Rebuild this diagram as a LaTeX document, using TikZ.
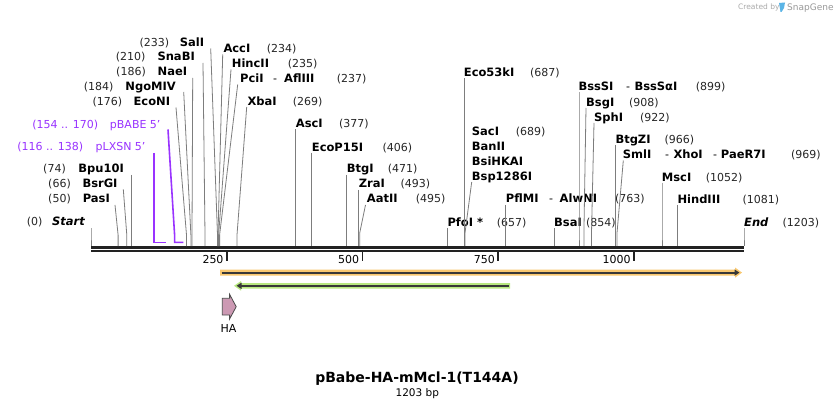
\documentclass[tikz,border=0pt]{standalone}
\usepackage{fontspec}
\setmainfont{DejaVu Sans}
\usetikzlibrary{arrows.meta}
\definecolor{lgray}{RGB}{125,125,125}
\definecolor{purp}{RGB}{153,51,255}
\definecolor{bbone}{RGB}{34,34,34}
\definecolor{orpale}{RGB}{249,200,112}
\definecolor{grpale}{RGB}{184,232,128}
\definecolor{hapink}{RGB}{204,153,179}
\definecolor{wmgray}{RGB}{170,170,170}
\definecolor{wmblue}{RGB}{90,180,230}
\newcommand\labL[6]{%
  \node[nr,anchor=base east] (#1n) at (#2,#6+4) {#3};
  \node[nm,anchor=base east] (#1) at (#4,#6+4) {#5};}
\newcommand\labR[6]{%
  \node[nm,anchor=base west] (#1) at (#2,#6+4) {#3};
  \node[nr,anchor=base west] (#1n) at (#4,#6+4) {#5};}
\begin{document}
\begin{tikzpicture}[x=1pt,y=-1pt,
  nm/.style={font=\fontsize{11.5}{12}\selectfont\bfseries, inner sep=0pt, text=black},
  nr/.style={font=\fontsize{11}{12}\selectfont, inner sep=0pt, text=black!85},
  hy/.style={font=\fontsize{11}{12}\selectfont, inner sep=0pt, text=black},
  pu/.style={font=\fontsize{11}{12}\selectfont, inner sep=0pt, text=purp},
  cl/.style={draw=lgray, line width=0.8pt},
  pl/.style={draw=purp, line width=1.6pt},
  bb/.style={draw=bbone, line width=2.6pt},
  tk/.style={draw=bbone, line width=1.8pt},
  tl/.style={font=\fontsize{11}{12}\selectfont, inner sep=0pt, anchor=base east}]
\useasboundingbox (0,0) rectangle (836,409);
\fill[white] (0,0) rectangle (836,409);

% ---------- watermark
\node[font=\fontsize{7.5}{8}\selectfont, text=wmgray, inner sep=0pt, anchor=base west] (wm1) at (738,10) {Created by};
\fill[wmblue] (779,3) -- (785,2.5) -- (784,8) -- (781.5,12) -- (780.5,12) -- cycle;
\node[font=\fontsize{9}{9}\selectfont, text=wmgray!90!black, inner sep=0pt, anchor=base west] (wm2) at (787,11) {SnapGene};

% ---------- backbone
\coordinate (b0) at (91,247.3); \coordinate (b1) at (744,247.3);
\coordinate (c0) at (91,251); \coordinate (c1) at (744,251);
\draw[bb] (b0) -- (b1);
\draw[bb] (c0) -- (c1);

% ticks
\foreach \x/\t/\nm in {226.7/250/ta,362.4/500/tb,498.1/750/tc,633.8/1000/td}{
  \coordinate (\nm s) at (\x,252); \coordinate (\nm e) at (\x,261);
  \draw[tk] (\nm s) -- (\nm e);
  \node[tl] (\nm l) at (\x-3,263.5) {\t};
}

% ---------- left labels
\labL{SalI}{169.3}{(233)}{204.3}{SalI}{42.3}
\labL{SnaBI}{145.7}{(210)}{195}{SnaBI}{56.7}
\labL{NaeI}{146}{(186)}{187.3}{NaeI}{71.7}
\labL{NgoMIV}{113.7}{(184)}{176}{NgoMIV}{87}
\labL{EcoNI}{122.3}{(176)}{170.3}{EcoNI}{102}
\labL{BpuI}{66}{(74)}{124}{Bpu10I}{169}
\labL{BsrGI}{71}{(66)}{117.7}{BsrGI}{183.3}
\labL{PasI}{71}{(50)}{110}{PasI}{199}
\node[nr,anchor=base east] (Startn) at (42.7,225.7) {(0)};
\node[nm,anchor=base east] (Start) at (85,225.7) {\itshape Start};

\node[pu,anchor=base east] (pBABEn) at (98.3,128.3) {(154 .. 170)};
\node[pu,anchor=base east] (pBABE) at (160.7,128.3) {pBABE 5'};
\node[pu,anchor=base east] (pLXSNn) at (83.3,150.7) {(116 .. 138)};
\node[pu,anchor=base east] (pLXSN) at (145.7,150.7) {pLXSN 5'};

% ---------- right labels
\labR{AccI}{223.3}{AccI}{266.7}{(234)}{49}
\labR{HincII}{231.7}{HincII}{287.7}{(235)}{63.7}
\node[nm,anchor=base west] (PciI) at (240,82.7) {PciI};
\node[hy,anchor=base west] (PciIh) at (273,82.7) {-};
\node[nm,anchor=base west] (AflIII) at (284,82.7) {AflIII};
\node[nr,anchor=base west] (AflIIIn) at (336.7,82.7) {(237)};
\labR{XbaI}{247.3}{XbaI}{292.7}{(269)}{101.7}
\labR{AscI}{295.7}{AscI}{339}{(377)}{123.3}
\labR{EcoP}{311.7}{EcoP15I}{382.3}{(406)}{147.3}
\labR{BtgI}{346.7}{BtgI}{387.7}{(471)}{169}
\labR{ZraI}{358.7}{ZraI}{400.3}{(493)}{184}
\labR{AatII}{366.7}{AatII}{415.7}{(495)}{198.7}
\labR{PfoI}{447.3}{PfoI *}{496.7}{(657)}{222}
\labR{Eco53}{463.7}{Eco53kI}{530}{(687)}{72.3}
\labR{SacI}{471.7}{SacI}{515.7}{(689)}{131.7}
\node[nm,anchor=base west] (BanII) at (471.7,150.7) {BanII};
\node[nm,anchor=base west] (BsiHKAI) at (471.7,165.3) {BsiHKAI};
\node[nm,anchor=base west] (Bsp) at (471.7,180.7) {Bsp1286I};
\node[nm,anchor=base west] (PflMI) at (505.7,203) {PflMI};
\node[hy,anchor=base west] (PflMIh) at (549,203) {-};
\node[nm,anchor=base west] (AlwNI) at (559.5,203) {AlwNI};
\node[nr,anchor=base west] (AlwNIn) at (615,203) {(763)};
\labR{BsaI}{554}{BsaI}{586}{(854)}{222}
\node[nm,anchor=base west] (BssSI) at (578.3,90.7) {BssSI};
\node[hy,anchor=base west] (BssSIh) at (626,90.7) {-};
\node[nm,anchor=base west] (BssSa) at (634.3,90.7) {BssSαI};
\node[nr,anchor=base west] (BssSan) at (695.7,90.7) {(899)};
\labR{BsgI}{586}{BsgI}{629}{(908)}{102.3}
\labR{SphI}{594}{SphI}{640}{(922)}{117.3}
\labR{BtgZI}{615.3}{BtgZI}{664.3}{(966)}{139.3}
\node[nm,anchor=base west] (SmlI) at (622.7,158.7) {SmlI};
\node[hy,anchor=base west] (SmlIh) at (665,158.7) {-};
\node[nm,anchor=base west] (XhoI) at (673.3,158.7) {XhoI};
\node[hy,anchor=base west] (XhoIh) at (713,158.7) {-};
\node[nm,anchor=base west] (PaeR) at (720.7,158.7) {PaeR7I};
\node[nr,anchor=base west] (PaeRn) at (791,158.7) {(969)};
\labR{MscI}{661.7}{MscI}{705.7}{(1052)}{177.3}
\labR{HindIII}{677.3}{HindIII}{742.3}{(1081)}{199.3}
\node[nm,anchor=base west] (End) at (744,226.3) {\itshape End};
\node[nr,anchor=base west] (Endn) at (782.3,226.3) {(1203)};

% ---------- connectors: top point, bend, site on backbone
\foreach \id/\tx/\ty/\bx/\by/\sx in {
  st/91/228/91/235/91,
  pa/115/205/118.1/235/118.1,
  bs/123.3/189.3/126.8/235/126.8,
  bp/131.2/175/131.2/235/131.2,
  en/176/107.5/186.5/235/186.5,
  ng/183.7/92/190.9/235/190.9,
  na/192.7/78/192/235/192,
  sn/203/63/205/235/205,
  sa/210.7/48.5/217.5/235/217.5,
  ac/222.7/54.5/218/235/218,
  hi/231/69.5/218.6/235/218.6,
  pc/237.7/84.5/219.6/235/219.6,
  xb/246.7/107/237/235/237,
  as/295.6/129.5/295.6/235/295.6,
  ep/311.4/153/311.4/235/311.4,
  bt/346.7/175/346.7/235/346.7,
  zr/358.6/190/358.6/235/358.6,
  aa/365.5/205/359.7/233/359.7,
  pf/447.6/228/447.6/235/447.6,
  ec/463.9/78.5/463.9/235/463.9,
  sc/471.7/182/465/233/465,
  pm/505.2/205/505.2/235/505.2,
  bi/554.6/228/554.6/235/554.6,
  bss/579/92.5/579/235/579,
  bg/586/108/583.9/233/583.9,
  sp/594/123/591.5/233/591.5,
  bz/615.4/145/615.4/235/615.4,
  sm/623.3/160.5/617/233/617,
  ms/662/183/662/235/662,
  hd/677.8/205/677.8/235/677.8,
  ed/744/228/744/235/744}{
  \coordinate (\id t) at (\tx,\ty);
  \coordinate (\id b) at (\bx,\by);
  \coordinate (\id s) at (\sx,246);
  \draw[cl] (\id t) -- (\id b) -- (\id s);
}

% ---------- primer features
\coordinate (pbt) at (168,129.5); \coordinate (pbb) at (174.6,235);
\coordinate (pb1) at (174.6,242.3); \coordinate (pb2) at (183.3,242.3);
\draw[pl] (pbt) -- (pbb) -- (pb1) -- (pb2);
\coordinate (plt) at (154,153); \coordinate (pl1) at (154,242.3);
\coordinate (pl2) at (165.9,242.3);
\draw[pl] (plt) -- (pl1) -- (pl2);

% ---------- orange feature
\fill[orpale] (220,269.6) -- (735,269.6) -- (735,267.5) -- (742,272.6) -- (735,277.7) -- (735,275.6) -- (220,275.6) -- cycle;
\coordinate (or0) at (221.5,272.6); \coordinate (or1) at (739.5,272.6);
\draw[draw=bbone!90, line width=2pt, -{Triangle[length=5pt,width=6pt]}] (or0) -- (or1);

% ---------- green feature
\fill[grpale] (510,283) -- (241,283) -- (241,281) -- (234,285.8) -- (241,290.6) -- (241,288.6) -- (510,288.6) -- cycle;
\coordinate (gr0) at (508.5,285.8); \coordinate (gr1) at (236.5,285.8);
\draw[draw=bbone!90, line width=2pt, -{Triangle[length=5pt,width=6pt]}] (gr0) -- (gr1);

% ---------- HA
\draw[fill=hapink, draw=black!70, line width=0.8pt]
  (222.3,298.3) -- (229.6,298.3) -- (229.6,294.3) -- (236.2,306.7) -- (229.6,319) -- (229.6,315) -- (222.3,315) -- cycle;
\node[font=\fontsize{11}{12}\selectfont, inner sep=0pt] (HA) at (228.5,328) {HA};

% ---------- title
\node[font=\fontsize{14}{15}\selectfont\bfseries, inner sep=0pt] (title) at (417,379) {pBabe-HA-mMcl-1(T144A)};
\node[font=\fontsize{10.5}{11}\selectfont, inner sep=0pt] (bp) at (417.3,393.3) {1203 bp};
\end{tikzpicture}
\end{document}
